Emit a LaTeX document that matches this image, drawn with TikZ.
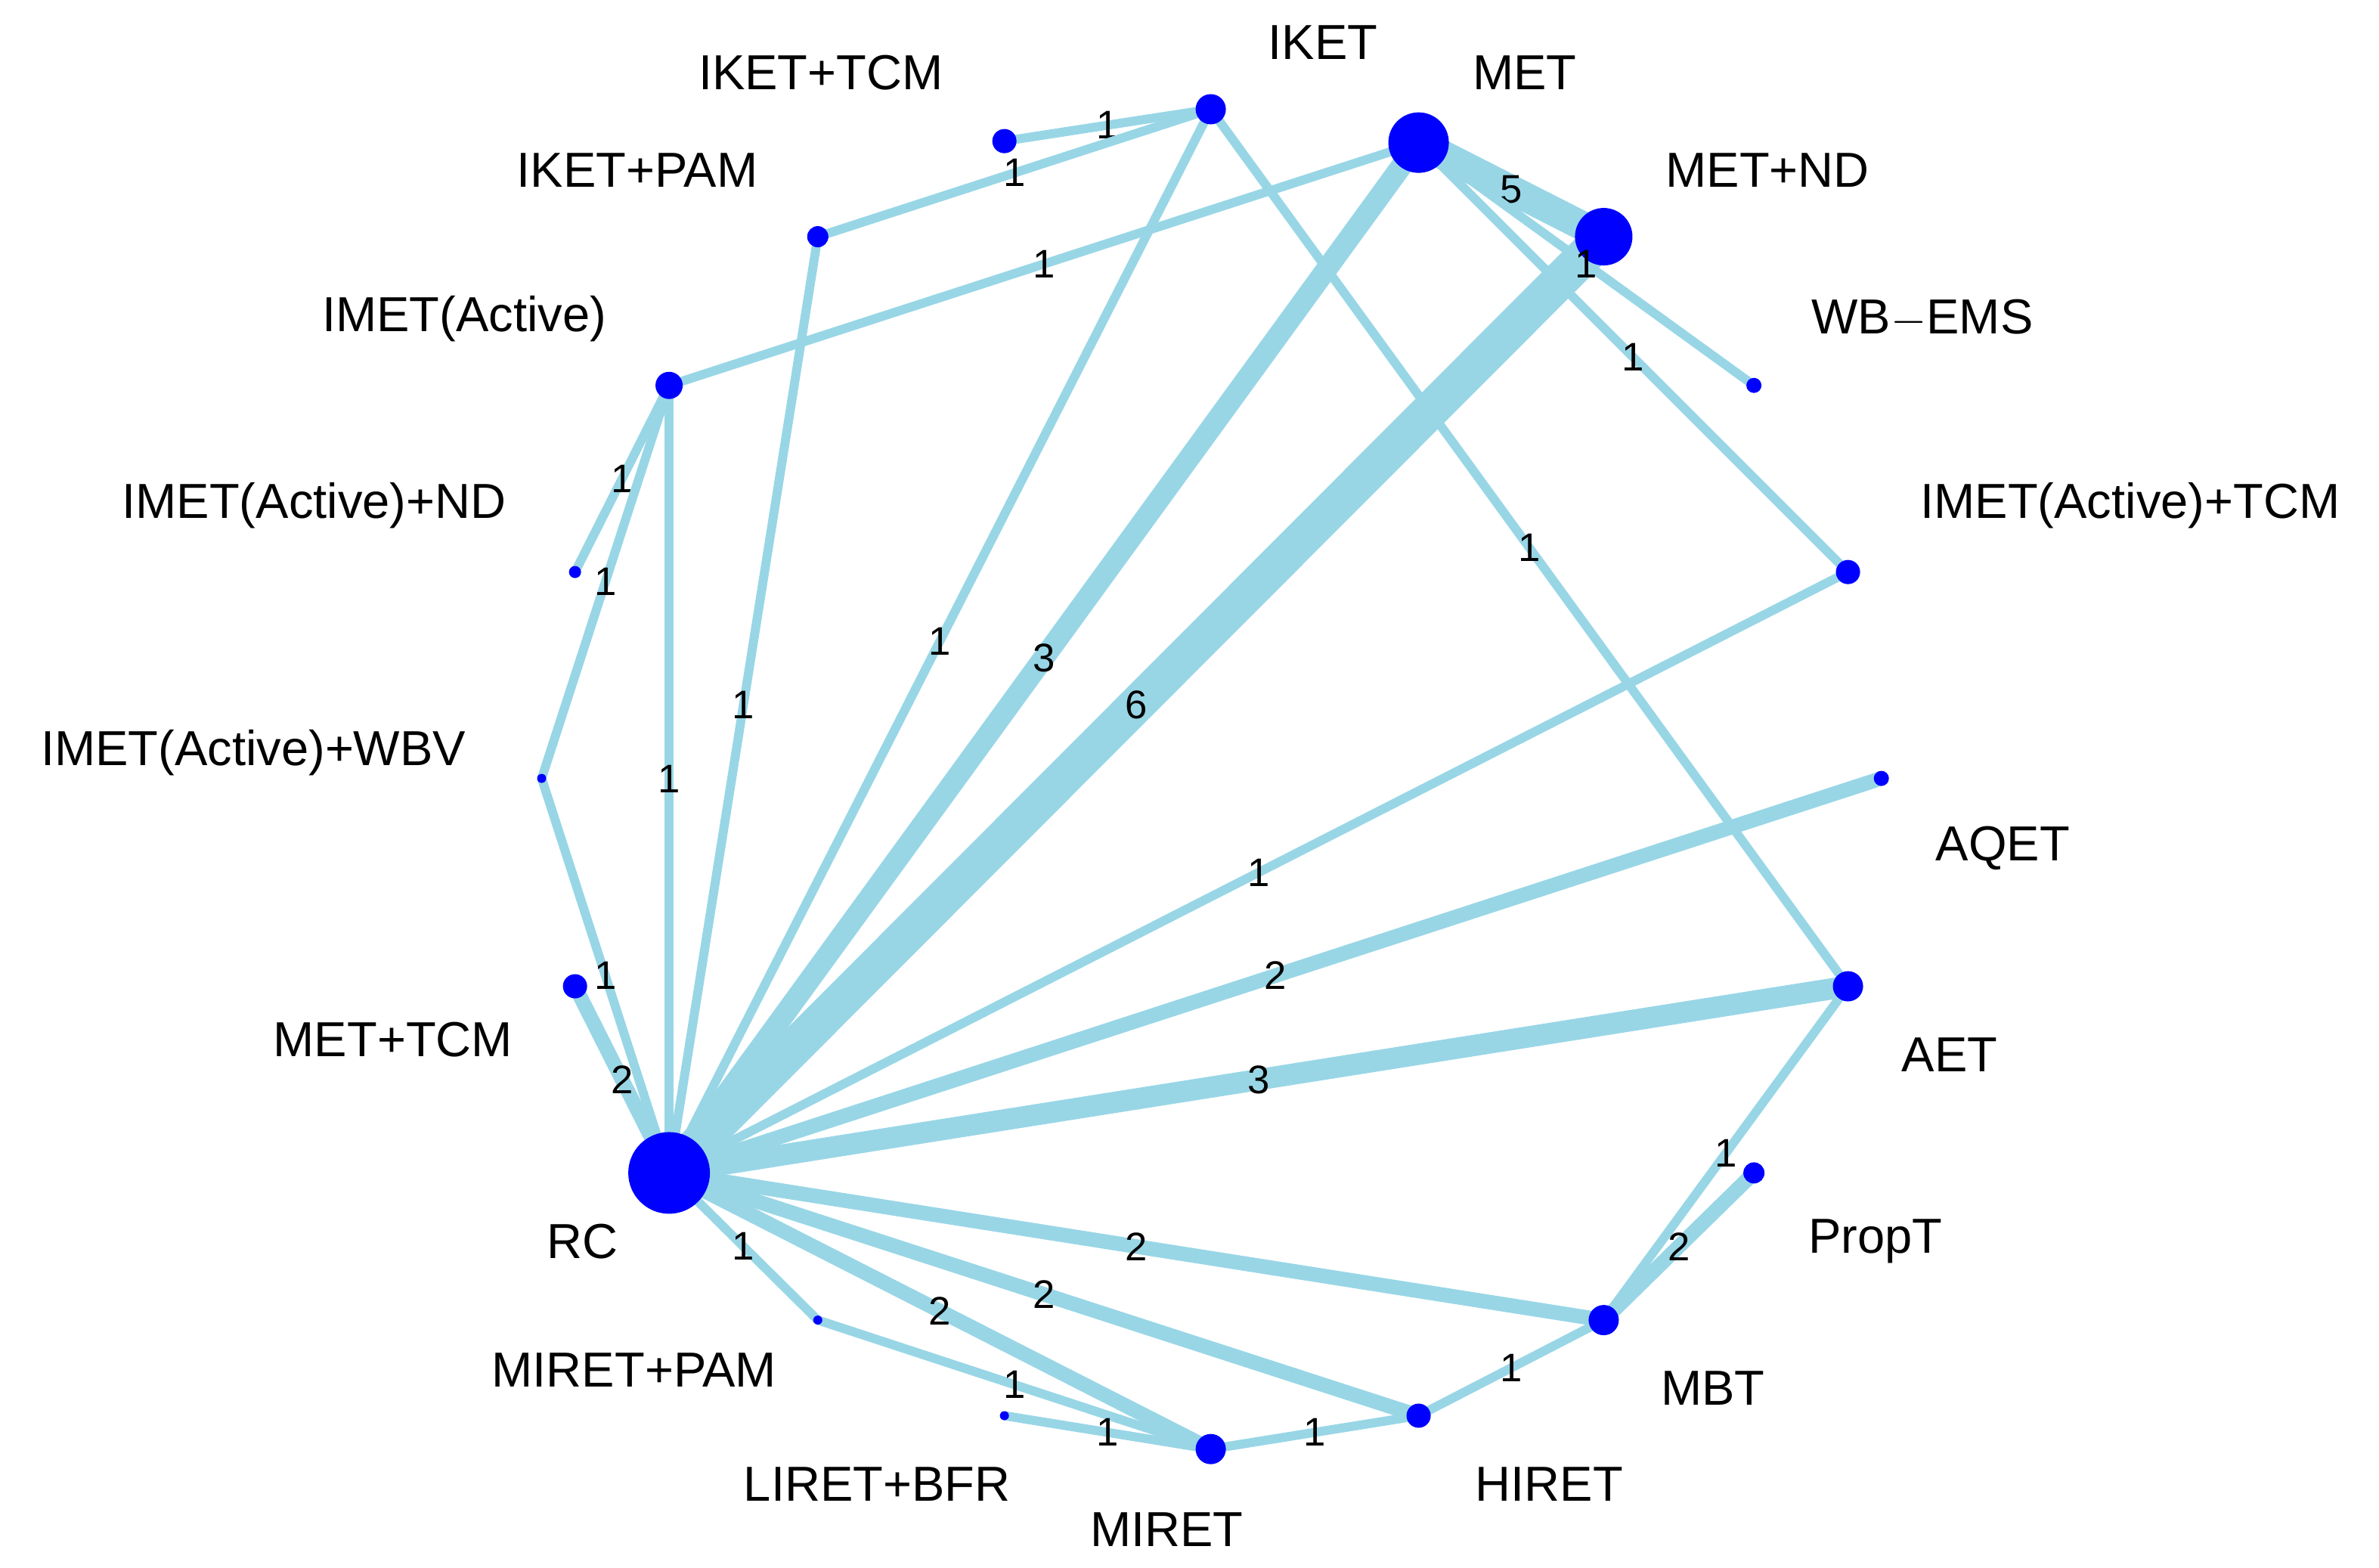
\documentclass[tikz,border=0pt]{standalone}
\usepackage{fontspec}
\setmainfont{Liberation Sans}
\begin{document}
\begin{tikzpicture}[x=0.02007cm,y=-0.02007cm,
  v/.style={circle,fill=blue,inner sep=0pt,minimum size=#1*0.569pt},
  lab/.style={font=\fontsize{18.5}{22}\selectfont,inner sep=0pt},
  e/.style={draw={rgb,255:red,152;green,214;blue,230},line width=#1},
  el/.style={midway,font=\fontsize{15}{17}\selectfont,inner sep=0pt,text=black}]
\useasboundingbox (0,0) rectangle (1568,1033);
\coordinate (pIKET) at (798,72);
\coordinate (pIKETTCM) at (662,93);
\coordinate (pIKETPAM) at (539,156);
\coordinate (pMET) at (935,94);
\coordinate (pMETND) at (1057,156);
\coordinate (pWB) at (1156,254);
\coordinate (pIMET) at (441,254);
\coordinate (pIMETND) at (379,377);
\coordinate (pIMETTCM) at (1218,377);
\coordinate (pWBV) at (357,513);
\coordinate (pAQET) at (1240,513);
\coordinate (pMETTCM) at (379,650);
\coordinate (pAET) at (1218,650);
\coordinate (pRC) at (441,773);
\coordinate (pPropT) at (1156,773);
\coordinate (pMIRETPAM) at (539,870);
\coordinate (pMBT) at (1057,870);
\coordinate (pLIRET) at (662,933);
\coordinate (pHIRET) at (935,933);
\coordinate (pMIRET) at (798,955);
% edges
\draw[e=3.4pt] (pIKETTCM) -- node[el]{1} (pIKET);
\draw[e=3.4pt] (pIKETPAM) -- node[el]{1} (pIKET);
\draw[e=3.4pt] (pRC) -- node[el]{1} (pIKET);
\draw[e=3.4pt] (pIKET) -- node[el]{1} (pAET);
\draw[e=11pt] (pMET) -- node[el]{5} (pMETND);
\draw[e=3.4pt] (pIMET) -- node[el]{1} (pMET);
\draw[e=8pt] (pRC) -- node[el]{3} (pMET);
\draw[e=3.4pt] (pMET) -- (pWB);
\draw[e=3.4pt] (pMET) -- node[el]{1} (pIMETTCM);
\draw[e=14pt] (pRC) -- node[el]{6} (pMETND);
\draw[e=3.4pt] (pIKETPAM) -- node[el]{1} (pRC);
\draw[e=3.4pt] (pIMET) -- node[el]{1} (pRC);
\draw[e=3.4pt] (pIMET) -- node[el]{1} (pIMETND);
\draw[e=3.4pt] (pIMET) -- node[el]{1} (pWBV);
\draw[e=3.4pt] (pWBV) -- node[el]{1} (pRC);
\draw[e=5.5pt] (pMETTCM) -- node[el]{2} (pRC);
\draw[e=3.4pt] (pRC) -- node[el]{1} (pIMETTCM);
\draw[e=5.5pt] (pRC) -- node[el]{2} (pAQET);
\draw[e=8pt] (pRC) -- node[el]{3} (pAET);
\draw[e=3.4pt] (pAET) -- node[el]{1} (pMBT);
\draw[e=5.5pt] (pPropT) -- node[el]{2} (pMBT);
\draw[e=5.5pt] (pRC) -- node[el]{2} (pMBT);
\draw[e=5.5pt] (pRC) -- node[el]{2} (pHIRET);
\draw[e=5.5pt] (pRC) -- node[el]{2} (pMIRET);
\draw[e=3.4pt] (pRC) -- node[el]{1} (pMIRETPAM);
\draw[e=3.4pt] (pMIRETPAM) -- node[el]{1} (pMIRET);
\draw[e=3.4pt] (pLIRET) -- node[el]{1} (pMIRET);
\draw[e=3.4pt] (pMIRET) -- node[el]{1} (pHIRET);
\draw[e=3.4pt] (pHIRET) -- node[el]{1} (pMBT);
% vertices
\node[v=20] (IKET) at (pIKET) {};
\node[v=16] (IKETTCM) at (pIKETTCM) {};
\node[v=14] (IKETPAM) at (pIKETPAM) {};
\node[v=40] (MET) at (pMET) {};
\node[v=38] (METND) at (pMETND) {};
\node[v=10] (WB) at (pWB) {};
\node[v=18] (IMET) at (pIMET) {};
\node[v=8] (IMETND) at (pIMETND) {};
\node[v=16] (IMETTCM) at (pIMETTCM) {};
\node[v=6] (WBV) at (pWBV) {};
\node[v=10] (AQET) at (pAQET) {};
\node[v=16] (METTCM) at (pMETTCM) {};
\node[v=20] (AET) at (pAET) {};
\node[v=54] (RC) at (pRC) {};
\node[v=14] (PropT) at (pPropT) {};
\node[v=6] (MIRETPAM) at (pMIRETPAM) {};
\node[v=20] (MBT) at (pMBT) {};
\node[v=6] (LIRET) at (pLIRET) {};
\node[v=16] (HIRET) at (pHIRET) {};
\node[v=20] (MIRET) at (pMIRET) {};
\path (MET.center) -- node[el]{1} (WB.center);
% labels
\node[lab] (lIKET) at (872,28) {IKET};
\node[lab] (lIKETTCM) at (541,48) {IKET+TCM};
\node[lab] (lIKETPAM) at (420,112) {IKET+PAM};
\node[lab] (lMET) at (1005,48) {MET};
\node[lab] (lMETND) at (1165,112) {MET+ND};
\node[lab] (lWB) at (1267,210) {WB$-$EMS};
\node[lab] (lIMET) at (306,210) {IMET(Active)};
\node[lab] (lIMETND) at (207,333) {IMET(Active)+ND};
\node[lab] (lIMETTCM) at (1404,333) {IMET(Active)+TCM};
\node[lab] (lWBV) at (167,496) {IMET(Active)+WBV};
\node[lab] (lAQET) at (1320,559) {AQET};
\node[lab] (lMETTCM) at (259,685) {MET+TCM};
\node[lab] (lAET) at (1285,695) {AET};
\node[lab] (lRC) at (384,818) {RC};
\node[lab] (lPropT) at (1236,818) {PropT};
\node[lab] (lMIRETPAM) at (418,903) {MIRET+PAM};
\node[lab] (lMBT) at (1129,915) {MBT};
\node[lab] (lLIRET) at (578,978) {LIRET+BFR};
\node[lab] (lHIRET) at (1021,978) {HIRET};
\node[lab] (lMIRET) at (769,1008) {MIRET};
\end{tikzpicture}
\end{document}
